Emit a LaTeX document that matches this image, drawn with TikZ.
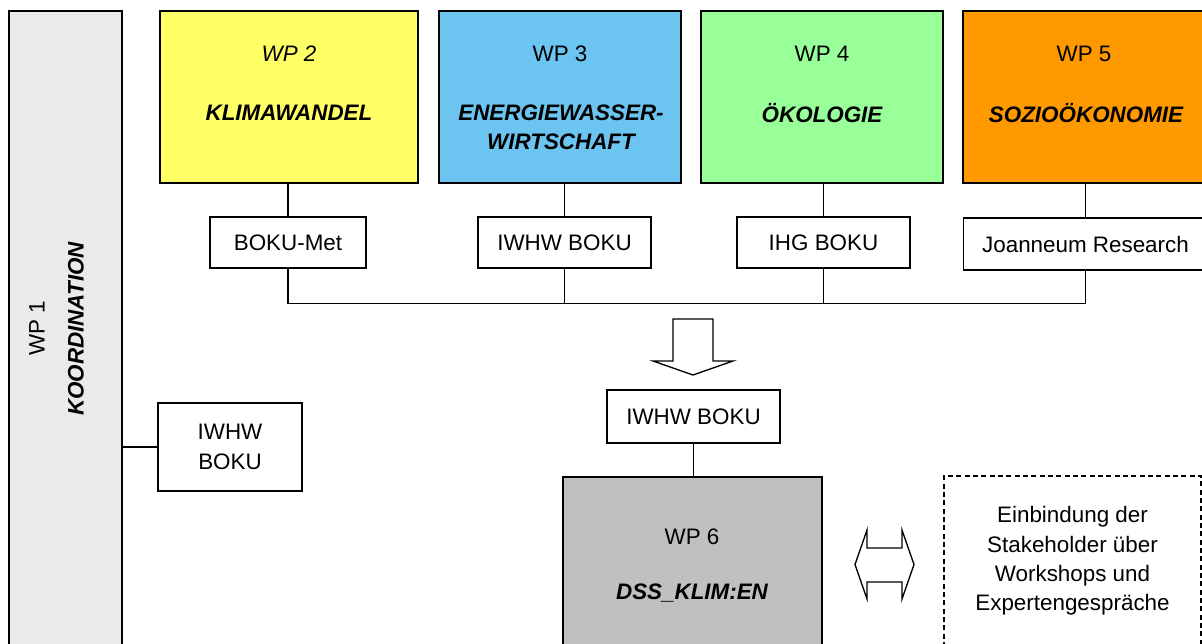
\documentclass[tikz,border=0pt]{standalone}
\usepackage{fontspec}
\setmainfont{Liberation Sans}
\usepackage{tikz}
\usetikzlibrary{positioning, calc}
\usepackage{xcolor}

\definecolor{wpgray}{HTML}{EAEAEA}
\definecolor{wpyellow}{HTML}{FFFF66}
\definecolor{wpblue}{HTML}{6CC5F1}
\definecolor{wpgreen}{HTML}{99FF99}
\definecolor{wporange}{HTML}{FF9900}
\definecolor{dssgray}{HTML}{C0C0C0}

\newcommand{\wpfont}{\fontsize{16.8}{22}\selectfont}

\tikzset{
  boxsize/.style 2 args={minimum width=#1*0.75pt, minimum height=#2*0.75pt},
  wp/.style={draw, line width=1.1pt, inner sep=0pt},
  partner/.style={draw, line width=1.1pt, fill=white, inner sep=0pt, align=center},
  wptitle/.style={font=\wpfont\bfseries\itshape, align=center},
  link/.style={line width=0.8pt},
  hollow/.style={draw, line width=1pt, fill=white, line join=miter}
}

\begin{document}
\begin{tikzpicture}[x=0.75pt, y=-0.75pt, font=\wpfont]
  \useasboundingbox (0,0) rectangle (1202,643);
  \clip (0,0) rectangle (1202,643);

  % WP 1
  \node[wp, fill=wpgray, boxsize={113}{649}] (wp1) at (65.5,335.5) {};
  \node[rotate=90] (wp1n) at (37,328) {WP 1};
  \node[wptitle, rotate=90] (wp1t) at (76,329) {KOORDINATION};

  % WP 2 - 5
  \node[wp, fill=wpyellow, boxsize={258}{172}] (wp2) at (289,97) {};
  \node[wp, fill=wpblue, boxsize={242}{172}] (wp3) at (560,97) {};
  \node[wp, fill=wpgreen, boxsize={242}{172}] (wp4) at (822,97) {};
  \node[wp, fill=wporange, boxsize={244}{172}] (wp5) at (1085,97) {};

  \node (wp2n) at (289,54) {\itshape WP 2};
  \node[wptitle] (wp2t) at (289,113) {KLIMAWANDEL};
  \node (wp3n) at (560,54) {WP 3};
  \node[wptitle] (wp3t) at (561,127) {ENERGIEWASSER-\\WIRTSCHAFT};
  \node (wp4n) at (822,54) {WP 4};
  \node[wptitle] (wp4t) at (822,113) {ÖKOLOGIE};
  \node (wp5n) at (1084,54) {WP 5};
  \node[wptitle] (wp5t) at (1086,113) {SOZIOÖKONOMIE};

  % Partner
  \node[partner, boxsize={156}{51}] (p2) at (288,242.5) {BOKU-Met};
  \node[partner, boxsize={173}{51}] (p3) at (564.5,242.5) {IWHW BOKU};
  \node[partner, boxsize={173}{51}] (p4) at (823.5,242.5) {IHG BOKU};
  \node[partner, boxsize={244}{52}] (p5) at (1085.5,244) {Joanneum Research};

  \foreach \i in {2,...,5}
    \draw[link] (p\i.north) -- (p\i.north |- wp\i.south);

  \coordinate (bus) at ($(p2.south)+(0,35)$);
  \draw[link] (p2.south) -- (bus) -| (p5.south);
  \draw[link] (p3.south) -- (p3.south |- bus);
  \draw[link] (p4.south) -- (p4.south |- bus);

  % Pfeil nach unten
  \draw[hollow] (673,319) -- (713,319) -- (713,361) -- (733,361) -- (693,375)
    -- (653,361) -- (673,361) -- cycle;

  % WP 6
  \node[partner, boxsize={173}{53}] (iwhw6) at (693.5,416.5) {IWHW BOKU};
  \node[wp, fill=dssgray, boxsize={259}{183}] (wp6) at (692.5,568.5) {};
  \draw[link] (iwhw6.south) -- (iwhw6.south |- wp6.north);
  \node (wp6n) at (692,537) {WP 6};
  \node[wptitle] (wp6t) at (692,593) {DSS\_KLIM:EN};

  % Koordination
  \node[partner, boxsize={144}{88}] (iwhw1) at (230,447) {IWHW\\BOKU};
  \draw[link] (iwhw1.west) -- (iwhw1.west -| wp1.east);

  % Doppelpfeil
  \draw[hollow] (855,564.5) -- (867,530) -- (867,548) -- (902,548) -- (902,530)
    -- (914,564.5) -- (902,599) -- (902,582) -- (867,582) -- (867,599) -- cycle;

  % Stakeholder
  \node[draw, line width=0.8pt, dash pattern=on 3.75pt off 2.5pt, boxsize={257}{170},
    align=center] (stake) at (1072.5,561)
    {Einbindung der\\Stakeholder über\\Workshops und\\Expertengespräche};
\end{tikzpicture}
\end{document}
